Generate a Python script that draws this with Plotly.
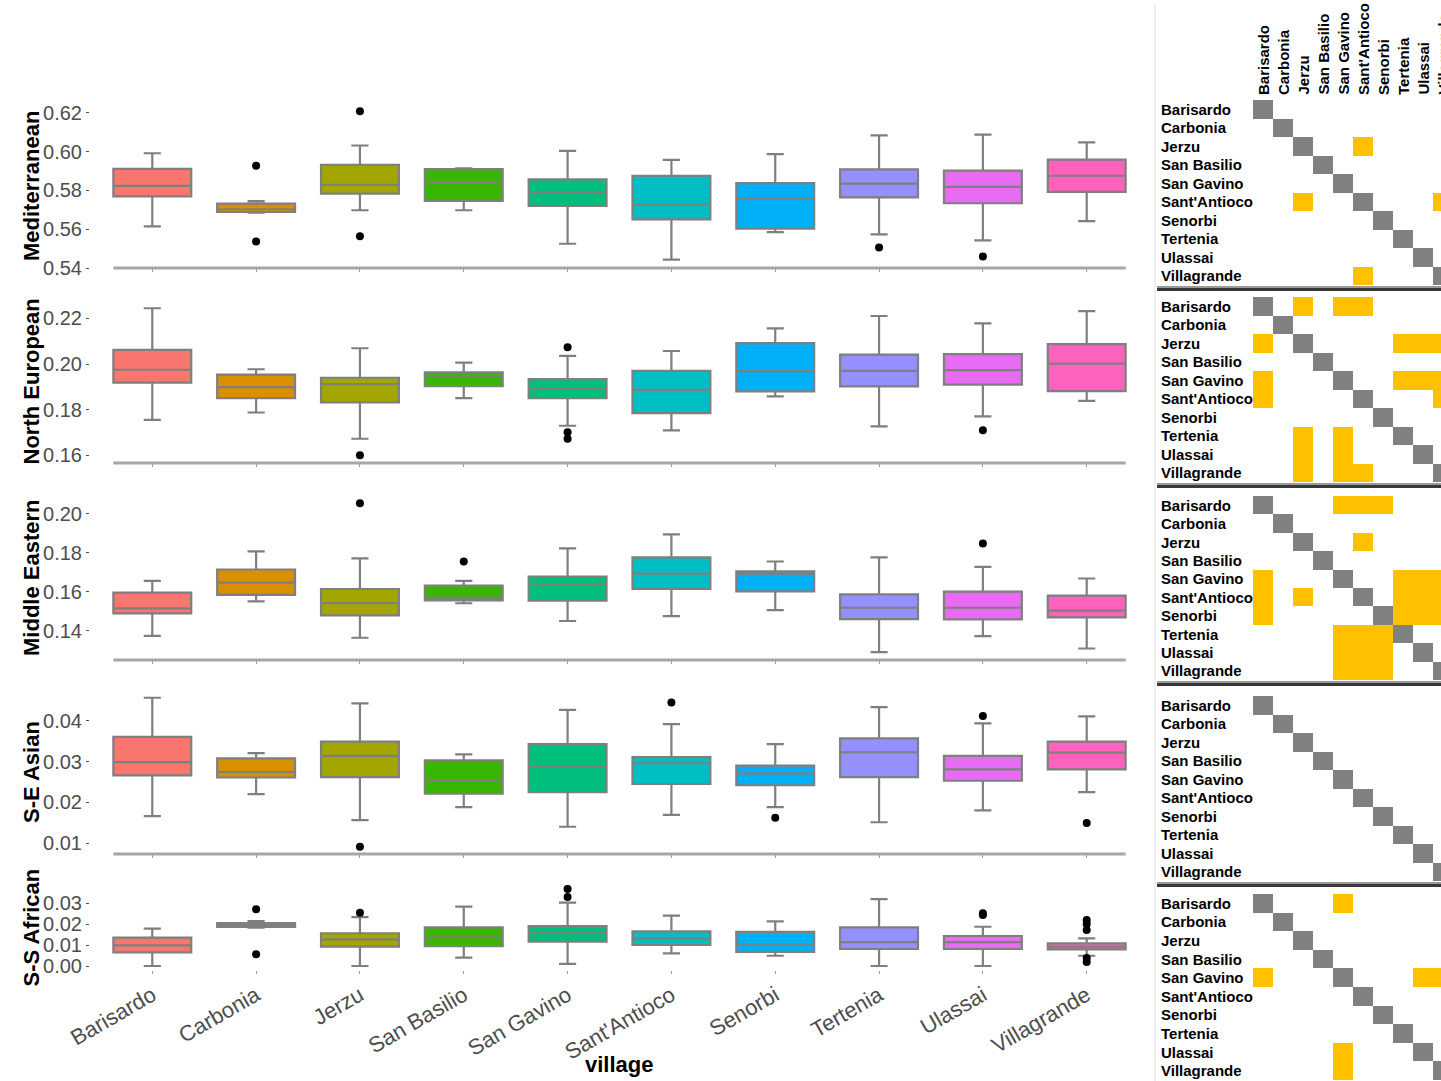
import plotly.graph_objects as go

W, H = 1441, 1081

villages = ["Barisardo", "Carbonia", "Jerzu", "San Basilio", "San Gavino",
            "Sant'Antioco", "Senorbi", "Tertenia", "Ulassai", "Villagrande"]
colors = ["#F8766D", "#D89000", "#A3A500", "#39B600", "#00BF7D",
          "#00BFC4", "#00B0F6", "#9590FF", "#E76BF3", "#FF62BC"]
components = ["Mediterranean", "North European", "Middle Eastern", "S-E Asian", "S-S African"]

# ---- Mediterranean ----
med_lo = [0.5615, 0.5686, 0.5698, 0.5698, 0.5525, 0.5443, 0.5585, 0.5573, 0.5542, 0.5642]
med_q1 = [0.5769, 0.5689, 0.5784, 0.5746, 0.5720, 0.5651, 0.5603, 0.5764, 0.5734, 0.5793]
med_md = [0.5824, 0.5703, 0.5829, 0.5842, 0.5788, 0.5727, 0.5758, 0.5835, 0.5819, 0.5876]
med_q3 = [0.5911, 0.5732, 0.5932, 0.5910, 0.5857, 0.5876, 0.5838, 0.5909, 0.5902, 0.5959]
med_hi = [0.5992, 0.5745, 0.6032, 0.5914, 0.6004, 0.5958, 0.5987, 0.6084, 0.6088, 0.6048]
med_out_v = ["Carbonia", "Carbonia", "Jerzu", "Jerzu", "Tertenia", "Ulassai"]
med_out_y = [0.5928, 0.5537, 0.6209, 0.5564, 0.5506, 0.5459]

# ---- North European ----
ne_lo = [0.1756, 0.1788, 0.1673, 0.1851, 0.1730, 0.1710, 0.1858, 0.1727, 0.1771, 0.1839]
ne_q1 = [0.1919, 0.1851, 0.1832, 0.1903, 0.1851, 0.1785, 0.1880, 0.1902, 0.1910, 0.1881]
ne_md = [0.1975, 0.1899, 0.1912, 0.1947, 0.1893, 0.1887, 0.1969, 0.1970, 0.1973, 0.2002]
ne_q3 = [0.2062, 0.1954, 0.1940, 0.1964, 0.1934, 0.1970, 0.2091, 0.2041, 0.2043, 0.2087]
ne_hi = [0.2244, 0.1977, 0.2069, 0.2006, 0.2036, 0.2057, 0.2156, 0.2210, 0.2178, 0.2231]
ne_out_v = ["Jerzu", "San Gavino", "San Gavino", "San Gavino", "Ulassai"]
ne_out_y = [0.1601, 0.2073, 0.1701, 0.1673, 0.1710]

# ---- Middle Eastern ----
me_lo = [0.1375, 0.1552, 0.1365, 0.1542, 0.1451, 0.1476, 0.1507, 0.1291, 0.1373, 0.1310]
me_q1 = [0.1490, 0.1585, 0.1480, 0.1557, 0.1555, 0.1615, 0.1603, 0.1461, 0.1459, 0.1470]
me_md = [0.1516, 0.1648, 0.1543, 0.1571, 0.1638, 0.1694, 0.1694, 0.1519, 0.1519, 0.1504]
me_q3 = [0.1597, 0.1715, 0.1615, 0.1633, 0.1679, 0.1777, 0.1705, 0.1588, 0.1602, 0.1581]
me_hi = [0.1657, 0.1808, 0.1772, 0.1657, 0.1823, 0.1895, 0.1756, 0.1777, 0.1729, 0.1669]
me_out_v = ["Jerzu", "San Basilio", "Ulassai"]
me_out_y = [0.2055, 0.1756, 0.1849]

# ---- S-E Asian ----
sea_lo = [0.0166, 0.0220, 0.0156, 0.0188, 0.0140, 0.0169, 0.0188, 0.0151, 0.0180, 0.0225]
sea_q1 = [0.0266, 0.0261, 0.0262, 0.0221, 0.0225, 0.0245, 0.0242, 0.0262, 0.0253, 0.0281]
sea_md = [0.0299, 0.0274, 0.0314, 0.0254, 0.0289, 0.0296, 0.0271, 0.0323, 0.0281, 0.0322]
sea_q3 = [0.0361, 0.0308, 0.0349, 0.0303, 0.0343, 0.0311, 0.0290, 0.0357, 0.0314, 0.0349]
sea_hi = [0.0457, 0.0321, 0.0443, 0.0318, 0.0427, 0.0392, 0.0343, 0.0434, 0.0394, 0.0411]
sea_out_v = ["Jerzu", "Sant'Antioco", "Senorbi", "Ulassai", "Villagrande"]
sea_out_y = [0.0091, 0.0445, 0.0162, 0.0412, 0.0149]

# ---- S-S African ----
ssa_lo = [0.0000, 0.0183, 0.0000, 0.0040, 0.0010, 0.0060, 0.0049, 0.0000, 0.0000, 0.0049]
ssa_q1 = [0.0065, 0.0186, 0.0092, 0.0095, 0.0116, 0.0100, 0.0067, 0.0081, 0.0081, 0.0079]
ssa_md = [0.0098, 0.0195, 0.0127, 0.0137, 0.0162, 0.0129, 0.0103, 0.0114, 0.0114, 0.0092]
ssa_q3 = [0.0135, 0.0205, 0.0156, 0.0184, 0.0190, 0.0165, 0.0163, 0.0184, 0.0143, 0.0108]
ssa_hi = [0.0178, 0.0214, 0.0233, 0.0283, 0.0302, 0.0240, 0.0213, 0.0319, 0.0187, 0.0132]
ssa_out_v = ["Carbonia", "Carbonia", "Jerzu", "San Gavino", "San Gavino", "Ulassai", "Ulassai",
             "Villagrande", "Villagrande", "Villagrande", "Villagrande", "Villagrande"]
ssa_out_y = [0.0270, 0.0056, 0.0254, 0.0367, 0.0329, 0.0251, 0.0243,
             0.0219, 0.0200, 0.0171, 0.0038, 0.0019]

# ---- significant pairwise differences (yellow cells) ----
med_pairs = [("Jerzu", "Sant'Antioco"), ("Sant'Antioco", "Villagrande")]
ne_pairs = [("Barisardo", "Jerzu"), ("Barisardo", "San Gavino"), ("Barisardo", "Sant'Antioco"),
            ("Jerzu", "Tertenia"), ("Jerzu", "Ulassai"), ("Jerzu", "Villagrande"),
            ("San Gavino", "Tertenia"), ("San Gavino", "Ulassai"), ("San Gavino", "Villagrande"),
            ("Sant'Antioco", "Villagrande")]
me_pairs = [("Barisardo", "San Gavino"), ("Barisardo", "Sant'Antioco"), ("Barisardo", "Senorbi"),
            ("Jerzu", "Sant'Antioco"),
            ("San Gavino", "Tertenia"), ("San Gavino", "Ulassai"), ("San Gavino", "Villagrande"),
            ("Sant'Antioco", "Tertenia"), ("Sant'Antioco", "Ulassai"), ("Sant'Antioco", "Villagrande"),
            ("Senorbi", "Tertenia"), ("Senorbi", "Ulassai"), ("Senorbi", "Villagrande")]
sea_pairs = []
ssa_pairs = [("Barisardo", "San Gavino"), ("San Gavino", "Ulassai"), ("San Gavino", "Villagrande")]

stats = [
    (med_lo, med_q1, med_md, med_q3, med_hi, med_out_v, med_out_y, med_pairs),
    (ne_lo, ne_q1, ne_md, ne_q3, ne_hi, ne_out_v, ne_out_y, ne_pairs),
    (me_lo, me_q1, me_md, me_q3, me_hi, me_out_v, me_out_y, me_pairs),
    (sea_lo, sea_q1, sea_md, sea_q3, sea_hi, sea_out_v, sea_out_y, sea_pairs),
    (ssa_lo, ssa_q1, ssa_md, ssa_q3, ssa_hi, ssa_out_v, ssa_out_y, ssa_pairs),
]

y_ranges = [[0.5400, 0.6246], [0.1567, 0.2280], [0.1251, 0.2092], [0.0073, 0.0476], [-0.0019, 0.0386]]
y_ticks = [[0.54, 0.56, 0.58, 0.60, 0.62], [0.16, 0.18, 0.20, 0.22], [0.14, 0.16, 0.18, 0.20],
           [0.01, 0.02, 0.03, 0.04], [0.00, 0.01, 0.02, 0.03]]

# layout geometry (pixels)
box_dom_px = [(104, 268), (300, 463), (496, 660), (690, 854), (885, 970)]
heat_dom_px = [(100, 285), (297, 482), (496, 680), (696, 881), (894, 1080)]
box_x_px = (90, 1149)
heat_x_px = (1253, 1441)
col_w = 20


def fx(p):
    return p / W


def fy(p):
    return 1 - p / H


FONT = "Liberation Sans, Arial, sans-serif"
fig = go.Figure()
layout = dict(width=W, height=H, margin=dict(l=0, r=0, t=0, b=0, autoexpand=False),
              paper_bgcolor="white", plot_bgcolor="white", showlegend=False,
              font=dict(family=FONT), boxgap=0)
shapes = []
annotations = []

for k, (lo, q1, md, q3, hi, ov, oy, pairs) in enumerate(stats):
    n = k + 1
    xa = "x" if n == 1 else f"x{n}"
    ya = "y" if n == 1 else f"y{n}"
    for j, v in enumerate(villages):
        fig.add_trace(go.Box(
            x=[v], q1=[q1[j]], median=[md[j]], q3=[q3[j]],
            lowerfence=[lo[j]], upperfence=[hi[j]],
            width=0.75, whiskerwidth=0.22, fillcolor=colors[j],
            line=dict(color="#7F7F7F", width=2.2), boxpoints=False,
            xaxis=xa, yaxis=ya, hoverinfo="skip"))
    fig.add_trace(go.Scatter(x=ov, y=oy, mode="markers",
                             marker=dict(color="black", size=8),
                             xaxis=xa, yaxis=ya, hoverinfo="skip"))
    t, b = box_dom_px[k]
    layout[f"xaxis{'' if n == 1 else n}"] = dict(
        domain=[fx(box_x_px[0]), fx(box_x_px[1])], anchor=ya, automargin=False,
        type="category", categoryorder="array", categoryarray=villages,
        range=[-0.6, 9.6], showgrid=False, zeroline=False, showline=False,
        ticks="outside", ticklen=3, tickcolor="#9a9a9a", tickwidth=1,
        showticklabels=(n == 5), tickangle=-30,
        tickfont=dict(size=22, color="#4D4D4D", family=FONT))
    layout[f"yaxis{'' if n == 1 else n}"] = dict(
        domain=[fy(b), fy(t)], anchor=xa, range=y_ranges[k], automargin=False,
        tickvals=y_ticks[k], tickformat=".2f", showgrid=False, zeroline=False,
        showline=False, ticks="outside", ticklen=3, tickcolor="#4D4D4D",
        tickfont=dict(size=20, color="#4D4D4D", family=FONT))
    if n <= 4:
        shapes.append(dict(type="line", xref=xa, yref=f"{ya} domain",
                           x0=-0.375, x1=9.375, y0=0, y1=0,
                           line=dict(color="#A6A6A6", width=3)))
    annotations.append(dict(text=f"<b>{components[k]}</b>", xref="paper", yref="paper",
                            x=fx(31), y=fy((t + b) / 2), textangle=-90, showarrow=False,
                            xanchor="center", yanchor="middle",
                            font=dict(size=22, color="black", family=FONT)))

    # ---- heatmap of pairwise tests ----
    hn = n + 5
    hx, hy = f"x{hn}", f"y{hn}"
    z = [[0] * len(villages) for _ in villages]
    for i in range(len(villages)):
        z[i][i] = 2
    for a, c in pairs:
        ia, ic = villages.index(a), villages.index(c)
        z[ia][ic] = 1
        z[ic][ia] = 1
    fig.add_trace(go.Heatmap(
        z=z, x=list(range(len(villages))), y=list(range(len(villages))),
        zmin=0, zmax=2, showscale=False, hoverinfo="skip",
        colorscale=[[0, "white"], [0.33, "white"], [0.34, "#FFC000"], [0.66, "#FFC000"],
                    [0.67, "#808080"], [1, "#808080"]],
        xaxis=hx, yaxis=hy))
    ht, hb = heat_dom_px[k]
    layout[f"xaxis{hn}"] = dict(domain=[fx(heat_x_px[0]), 1], anchor=hy, automargin=False,
                                range=[-0.5, (heat_x_px[1] - heat_x_px[0]) / col_w - 0.5],
                                showgrid=False, zeroline=False, showticklabels=False,
                                ticks="", showline=False)
    layout[f"yaxis{hn}"] = dict(domain=[fy(hb), fy(ht)], anchor=hx, automargin=False,
                                range=[len(villages) - 0.5, -0.5],
                                showgrid=False, zeroline=False, showticklabels=False,
                                ticks="", showline=False)
    for i, v in enumerate(villages):
        annotations.append(dict(text=f"<b>{v}</b>", xref="paper", yref=hy,
                                x=fx(1159), y=i, xanchor="left", yanchor="middle",
                                showarrow=False,
                                font=dict(size=15, color="black", family=FONT)))
    # panel shadow
    if hb < H - 2:
        shapes.append(dict(type="rect", xref="paper", yref="paper",
                           x0=fx(1157), x1=1, y0=fy(hb + 3), y1=fy(hb + 1),
                           fillcolor="#9a9a9a", line=dict(width=0)))
        shapes.append(dict(type="rect", xref="paper", yref="paper",
                           x0=fx(1157), x1=1, y0=fy(hb + 6), y1=fy(hb + 3),
                           fillcolor="#383838", line=dict(width=0)))

# column labels of the top heatmap
for j, v in enumerate(villages):
    annotations.append(dict(text=f"<b>{v}</b>", xref="paper", yref="paper",
                            x=fx(heat_x_px[0] + col_w * (j + 0.5)), y=fy(97),
                            textangle=-90, xanchor="center", yanchor="bottom",
                            showarrow=False,
                            font=dict(size=15, color="black", family=FONT)))

# left edge of the heatmap panels
shapes.append(dict(type="line", xref="paper", yref="paper", x0=fx(1155), x1=fx(1155),
                   y0=fy(5), y1=0, line=dict(color="#E0E0E0", width=1)))

annotations.append(dict(text="<b>village</b>", xref="paper", yref="paper",
                        x=fx(619), y=fy(1064), xanchor="center", yanchor="middle",
                        showarrow=False, font=dict(size=22, color="black", family=FONT)))

layout["shapes"] = shapes
layout["annotations"] = annotations
fig.update_layout(**layout)
fig.write_html("out.html", config={"displayModeBar": False},
               post_script="document.body.style.margin='0';document.body.style.overflow='hidden';")
